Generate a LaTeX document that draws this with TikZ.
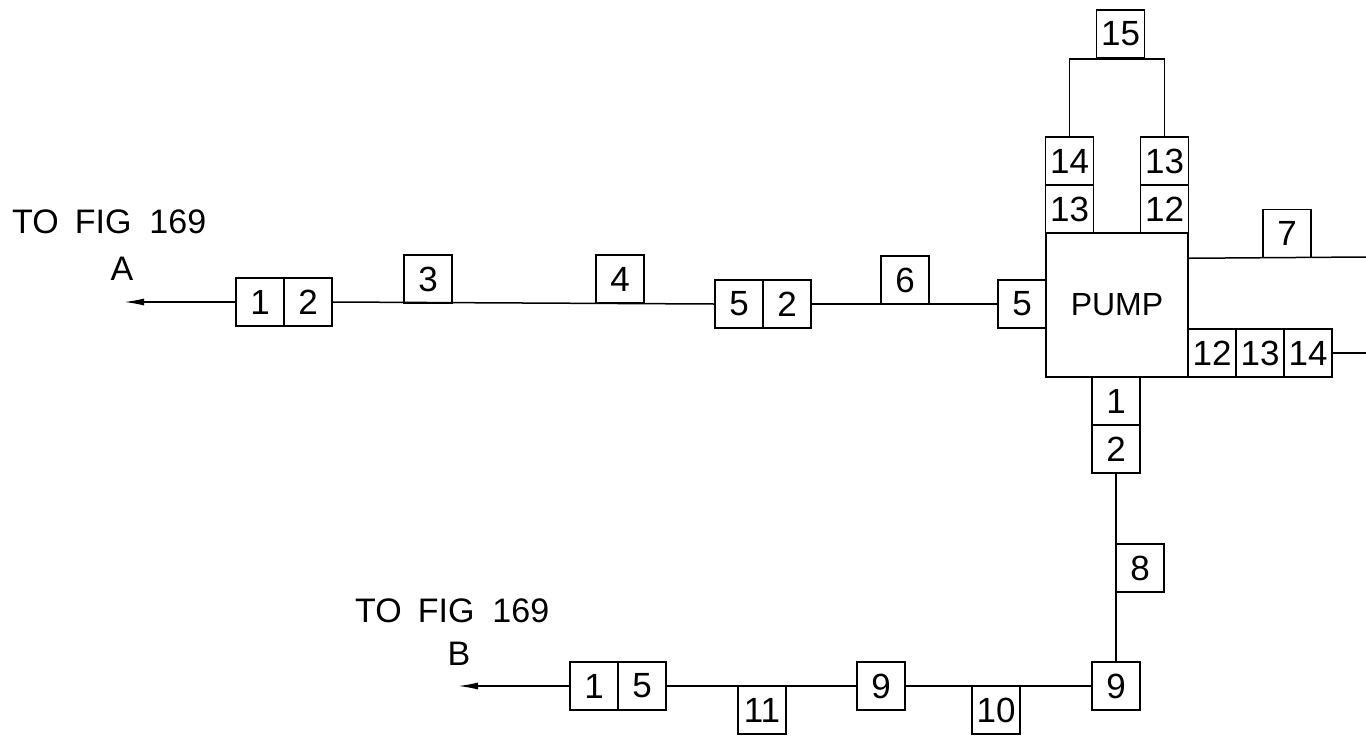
\documentclass[tikz,border=0pt]{standalone}
\usepackage{fontspec}
\setmainfont{Liberation Sans}
\usetikzlibrary{arrows.meta}
\begin{document}
\begin{tikzpicture}[x=1pt,y=-1pt,
  bx/.style={draw,line width=1.5pt,minimum width=48pt,minimum height=48pt,inner sep=0pt,font=\fontsize{35}{37}\selectfont},
  ln/.style={line width=1.5pt},
  arr/.style={line width=1.5pt,-{Latex[length=20pt,width=7pt]}},
  lbl/.style={font=\fontsize{34}{36}\selectfont,inner sep=0pt}]
\useasboundingbox (0,0) rectangle (1366,737);
% pump
\node[draw,line width=1.5pt,minimum width=142pt,minimum height=144pt,inner sep=0pt,font=\fontsize{32}{34}\selectfont] (pump) at (1117,305) {PUMP};
% top columns
\node[bx] (l13) at (1069.5,209) {13};
\node[bx] (l14) at (1069.5,161) {14};
\node[bx] (r12) at (1164.5,209) {12};
\node[bx] (r13) at (1164.5,161) {13};
\node[bx] (b15) at (1120.5,34) {15};
\draw[ln] (l14.north) |- (b15.south) -| (r13.north);
% right side
\node[bx] (b7) at (1287,233.5) {7};
\coordinate (e7) at (1366,257);
\draw[ln] (pump.east |- b7.south) -- (e7);
\node[bx] (s12) at (1212,353) {12};
\node[bx] (s13) at (1260,353) {13};
\node[bx] (s14) at (1308,353) {14};
\coordinate (e14) at (1366,353);
\draw[ln] (s14.east) -- (e14);
% top line
\node[bx] (p5) at (1022,304) {5};
\node[bx] (c5) at (739,304) {5};
\node[bx] (c2) at (787,304) {2};
\node[bx] (b6) at (905,280) {6};
\node[bx] (b4) at (620,279) {4};
\node[bx] (b3) at (428,279) {3};
\node[bx] (a1) at (260,302) {1};
\node[bx] (a2) at (308,302) {2};
\coordinate (ta) at (124,302);
\draw[ln] (p5.west) -- (c2.east);
\draw[ln] (c5.west) -- (a2.east);
\draw[arr] (a1.west) -- (ta);
\node[lbl,anchor=base west] (tfa) at (12,233) {TO\hspace{16pt}FIG\hspace{18pt}169};
\node[lbl,anchor=base] (la) at (122,280) {A};
% down from pump
\node[bx] (d1) at (1116,401) {1};
\node[bx] (d2) at (1116,449) {2};
\node[bx] (g9) at (1116,686) {9};
\node[bx] (b8) at (1140,568) {8};
\draw[ln] (d2.south) -- (g9.north);
% bottom line
\node[bx] (m9) at (881,686) {9};
\node[bx] (b10) at (996,710) {10};
\node[bx] (b11) at (762,710) {11};
\node[bx] (f1) at (594,686) {1};
\node[bx] (f5) at (642,686) {5};
\coordinate (tb) at (458,686);
\draw[ln] (g9.west) -- (m9.east);
\draw[ln] (m9.west) -- (f5.east);
\draw[arr] (f1.west) -- (tb);
\node[lbl,anchor=base west] (tfb) at (355,622) {TO\hspace{16pt}FIG\hspace{18pt}169};
\node[lbl,anchor=base] (lb) at (459,665) {B};
\end{tikzpicture}
\end{document}
